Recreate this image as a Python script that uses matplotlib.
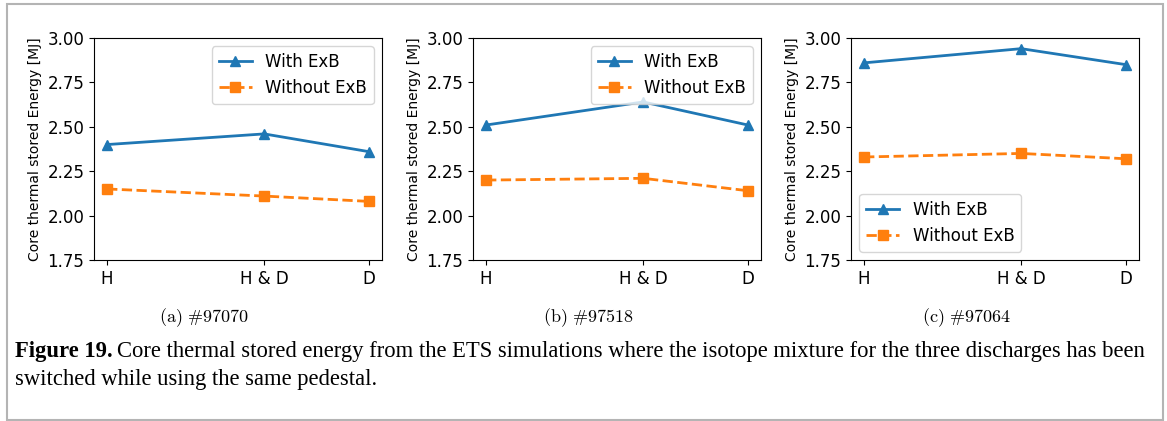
import numpy as np
import matplotlib.pyplot as plt
from matplotlib.patches import Rectangle

# isotope mixtures on the x axis (H & D placed at 60 % of the way)
mezcla = ["H", "H & D", "D"]
x_pos = [1.0, 1.6, 2.0]

# core thermal stored energy [MJ]
con_97070 = [2.40, 2.46, 2.36]
sin_97070 = [2.15, 2.11, 2.08]
con_97518 = [2.51, 2.64, 2.51]
sin_97518 = [2.20, 2.21, 2.14]
con_97064 = [2.86, 2.94, 2.85]
sin_97064 = [2.33, 2.35, 2.32]

descargas = ["97070", "97518", "97064"]
letras = ["a", "b", "c"]
leg_loc = ["upper right", "upper right", "lower left"]

plt.rcParams['font.family'] = 'DejaVu Sans'
plt.rcParams['mathtext.fontset'] = 'cm'

W, H = 1167, 421
fig = plt.figure(figsize=(W / 100, H / 100), dpi=100)

# marco gris alrededor de la figura
fig.patches.append(Rectangle((7 / W, 1 - 420 / H), 1156 / W, 416 / H,
                             transform=fig.transFigure, fill=False,
                             edgecolor='#b4b4b4', linewidth=1.5))

lefts = [94, 473, 851]
datos = [(con_97070, sin_97070), (con_97518, sin_97518), (con_97064, sin_97064)]
centros = [204, 588, 966]

for i in range(3):
    ax = fig.add_axes([lefts[i] / W, 1 - 260 / H, 288 / W, 222 / H])
    con, sin = datos[i]
    ax.plot(x_pos, con, '-^', color='#1f77b4', lw=2, ms=7, label='With ExB')
    ax.plot(x_pos, sin, '--s', color='#ff7f0e', lw=2, ms=7, label='Without ExB')
    ax.set_ylim(1.75, 3.0)
    ax.set_yticks([1.75, 2.0, 2.25, 2.5, 2.75, 3.0])
    ax.set_xticks(x_pos)
    ax.set_xticklabels(mezcla)
    ax.tick_params(labelsize=12)
    ax.set_ylabel('Core thermal stored Energy [MJ]', fontsize=10)
    ax.legend(loc=leg_loc[i], fontsize=12)
    fig.text(centros[i] / W, 1 - 318 / H,
             r'$\mathrm{(' + letras[i] + r')\ \#' + descargas[i] + '}$',
             ha='center', va='center', fontsize=13)

# pie de figura
t1 = fig.text(15 / W, 1 - 352 / H, 'Figure 19.', fontweight='bold',
              family='Liberation Serif', fontsize=16.3, ha='left', va='center')
fig.canvas.draw()
bb = t1.get_window_extent(fig.canvas.get_renderer())
fig.text((bb.x1 + 4) / W, 1 - 352 / H,
         'Core thermal stored energy from the ETS simulations where the isotope '
         'mixture for the three discharges has been',
         family='Liberation Serif', fontsize=16.3, ha='left', va='center')
fig.text(15 / W, 1 - 380 / H, 'switched while using the same pedestal.',
         family='Liberation Serif', fontsize=16.3, ha='left', va='center')

fig.savefig('out.png', dpi=100)
